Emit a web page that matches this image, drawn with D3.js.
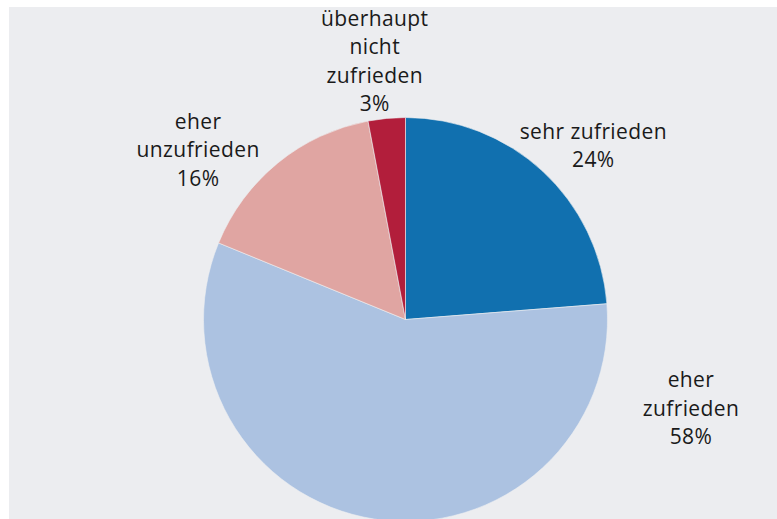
<!DOCTYPE html>
<html>
<head>
<meta charset="utf-8">
<script src="https://cdn.jsdelivr.net/npm/d3@7"></script>
<style>
  body { margin: 0; background: #fff; }
  .label { font-family: "Open Sans", "Liberation Sans", sans-serif; font-size: 21px; letter-spacing: 0.4px; fill: #1a1a1a; }
</style>
</head>
<body>
<div id="chart"></div>
<script>
// data
var categories = ["sehr zufrieden", "eher zufrieden", "eher unzufrieden", "überhaupt nicht zufrieden"];
var values = [24, 58, 16, 3];
var colors = ["#1170af", "#acc2e1", "#e0a5a2", "#b21e3b"];
// how each label is broken into lines
var labelLines = [
  ["sehr zufrieden"],
  ["eher", "zufrieden"],
  ["eher", "unzufrieden"],
  ["überhaupt", "nicht", "zufrieden"]
];

var width = 777,
    height = 519,
    cx = 405.5,
    cy = 319.5,
    radius = 202,
    lineHeight = 28.5;

// label placement (angle in degrees clockwise from 12 o'clock, distance from centre)
var labelAngle = [47.2, 107.3, 309.3, 353.2],
    labelRadius = [256, 299, 268, 260];

var svg = d3.select("#chart").append("svg")
    .attr("width", width)
    .attr("height", height);

svg.append("rect")
    .attr("x", 9)
    .attr("y", 7)
    .attr("width", width - 9)
    .attr("height", height - 7)
    .attr("fill", "#ecedf0");

var pie = d3.pie()
    .sort(null)
    .value(function(d) { return d; });

var arc = d3.arc()
    .innerRadius(0)
    .outerRadius(radius);

var g = svg.append("g")
    .attr("transform", "translate(" + cx + "," + cy + ")");

g.selectAll(".slice")
  .data(pie(values))
  .enter().append("path")
    .attr("class", "slice")
    .attr("d", arc)
    .attr("fill", function(d, i) { return colors[i]; })
    .attr("stroke", "#eef0f2")
    .attr("stroke-width", 0.6);

var labels = g.selectAll(".label")
  .data(categories)
  .enter().append("text")
    .attr("class", "label")
    .attr("text-anchor", "middle")
    .attr("transform", function(d, i) {
      var a = labelAngle[i] / 180 * Math.PI;
      return "translate(" + (Math.sin(a) * labelRadius[i]) + "," + (-Math.cos(a) * labelRadius[i]) + ")";
    });

labels.each(function(d, i) {
  var lines = labelLines[i].concat([values[i] + "%"]);
  var t = d3.select(this);
  lines.forEach(function(s, j) {
    t.append("tspan")
      .attr("x", 0)
      .attr("y", (j - (lines.length - 1) / 2) * lineHeight)
      .attr("dy", "0.35em")
      .text(s);
  });
});
</script>
</body>
</html>
